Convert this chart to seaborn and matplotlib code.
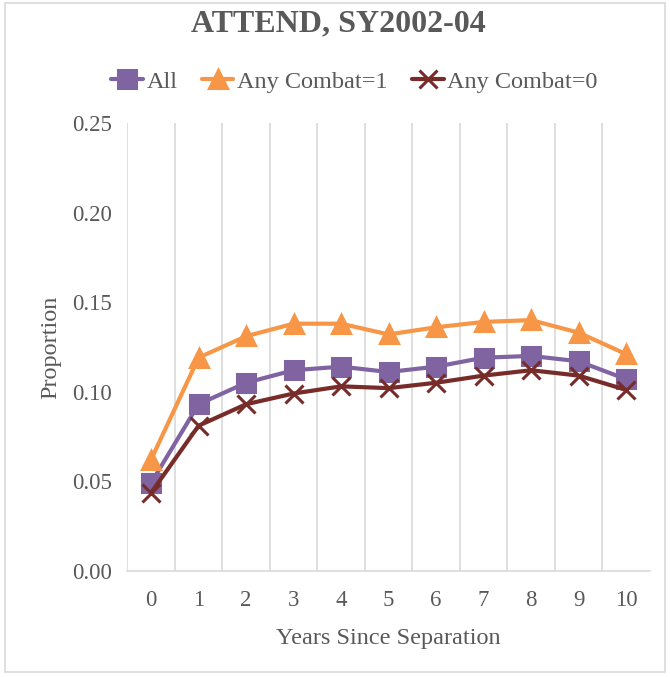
import numpy as np
import pandas as pd
import matplotlib
matplotlib.use("Agg")
import matplotlib.pyplot as plt
import seaborn as sns
from matplotlib.patches import Rectangle

# ---------- data --------------------------------------------------------
years = [0, 1, 2, 3, 4, 5, 6, 7, 8, 9, 10]
all_vals = [0.049, 0.093, 0.105, 0.112, 0.114, 0.111, 0.114, 0.119, 0.120, 0.117, 0.107]
combat1_vals = [0.062, 0.119, 0.131, 0.138, 0.138, 0.132, 0.136, 0.139, 0.140, 0.133, 0.121]
combat0_vals = [0.0435, 0.081, 0.093, 0.099, 0.103, 0.102, 0.105, 0.109, 0.112, 0.109, 0.101]
series_names = ["All", "Any Combat=1", "Any Combat=0"]
y_ticks = [0.00, 0.05, 0.10, 0.15, 0.20, 0.25]

df = pd.DataFrame({
    "year": years * 3,
    "value": all_vals + combat1_vals + combat0_vals,
    "series": [series_names[0]] * 11 + [series_names[1]] * 11 + [series_names[2]] * 11,
})

sns.set_style("white")
plt.rcParams["font.family"] = ["Liberation Serif", "DejaVu Serif"]
text_col = "#595959"

palette = {"All": "#8064A2", "Any Combat=1": "#F79646", "Any Combat=0": "#772C2A"}
markers = {"All": "s", "Any Combat=1": "^", "Any Combat=0": "x"}

fig = plt.figure(figsize=(6.7, 6.77), dpi=100)
ax = fig.add_axes([0.19, 0.157, 0.78, 0.661])

# one call per series: seaborn won't mix filled and line-art markers
for name in series_names:
    sub = df[df["series"] == name]
    sns.lineplot(data=sub, x="year", y="value", color=palette[name],
                 marker=markers[name], ax=ax, linewidth=3.0, markersize=12.5,
                 markeredgewidth=2.2, markeredgecolor=palette[name], zorder=3)

# category boundary gridlines (Excel style)
for b in np.arange(-0.5, 10, 1.0):
    ax.axvline(b, color="#D9D9D9", lw=1.2, zorder=0)

ax.set_xlim(-0.5, 10.5)
ax.set_ylim(0, 0.25)
ax.set_xticks(years)
ax.set_xticklabels([str(y) for y in years])
ax.set_yticks(y_ticks)
ax.set_yticklabels([f"{t:.2f}" for t in y_ticks])
ax.tick_params(axis="both", length=0, labelsize=16.5, colors=text_col)
ax.tick_params(axis="y", pad=11)
ax.tick_params(axis="x", pad=14)
for s in ["top", "right", "left"]:
    ax.spines[s].set_visible(False)
ax.spines["bottom"].set_color("#D9D9D9")
ax.spines["bottom"].set_linewidth(1.2)

ax.set_xlabel("Years Since Separation", fontsize=17.5, color=text_col, labelpad=12)
ax.set_ylabel("Proportion", fontsize=17.5, color=text_col, labelpad=8)

fig.text(0.505, 0.964, "ATTEND, SY2002-04", ha="center", va="center",
         fontsize=23, fontweight="bold", color=text_col)

handles = [plt.Line2D([], [], color=palette[n], marker=markers[n], lw=3.0,
                      markersize=12.5, markeredgewidth=2.2) for n in series_names]
fig.legend(handles, series_names, loc="center", bbox_to_anchor=(0.529, 0.879),
           ncol=3, frameon=False, fontsize=17.5, handlelength=1.3,
           handletextpad=0.15, columnspacing=1.0, labelcolor=text_col)

fig.add_artist(Rectangle((0.008, 0.007), 0.984, 0.988, transform=fig.transFigure,
                         fill=False, edgecolor="#D9D9D9", lw=1.2))

fig.savefig("out.png", dpi=100)
